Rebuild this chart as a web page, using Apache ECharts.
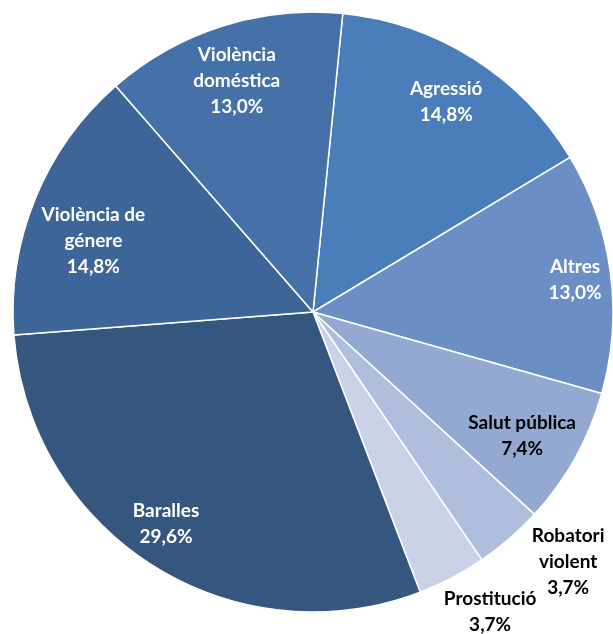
<!DOCTYPE html>
<html>
<head>
<meta charset="utf-8">
<script src="https://cdn.jsdelivr.net/npm/echarts@6/dist/echarts.min.js"></script>
<style>
  html, body { margin: 0; padding: 0; background: #fff; }
  #chart { width: 613px; height: 634px; }
</style>
</head>
<body>
<div id="chart"></div>
<script>
// data, clockwise from the top
const categories = ['Agressió', 'Altres', 'Salut pública', 'Robatori violent', 'Prostitució', 'Baralles', 'Violència de génere', 'Violència doméstica']
const labelNames = ['Agressió', 'Altres', 'Salut pública', 'Robatori\nviolent', 'Prostitució', 'Baralles', 'Violència de\ngénere', 'Violència\ndoméstica']
const percents = [14.8, 13.0, 7.4, 3.7, 3.7, 29.6, 14.8, 13.0]

const colors = ['#4a7dba', '#6b8fc5', '#94a9d1', '#afbedc', '#c9d2e6', '#35567f', '#3d6597', '#4571a8']
const textColors = ['#fff', '#fff', '#000', '#000', '#000', '#fff', '#fff', '#fff']

// label placement: distance from centre (fraction of radius) and small angle tweak (deg)
const labelRadius = [0.83, 0.88, 0.81, 1.19, 1.16, 0.86, 0.77, 0.81]
const labelTurn = [0, 0.6, 1.5, -4.7, -3, 2.4, -4.2, -0.6]

const cx = 313, cy = 312, R = 300
const startOffset = 5.7 // degrees clockwise from 12 o'clock
const total = percents.reduce((a, b) => a + b, 0)

const chart = echarts.init(document.getElementById('chart'))

chart.setOption({
  animation: false,
  series: [
    {
      type: 'pie',
      center: [cx, cy],
      radius: [0, R],
      startAngle: 90 - startOffset,
      clockwise: true,
      avoidLabelOverlap: false,
      itemStyle: { borderColor: '#fff', borderWidth: 1.5 },
      label: {
        show: true,
        position: 'inside',
        fontFamily: 'Lato',
        fontWeight: 'bold',
        fontSize: 19,
        lineHeight: 26,
        align: 'center',
        formatter: (p) => labelNames[p.dataIndex] + '\n' + percents[p.dataIndex].toFixed(1).replace('.', ',') + '%',
      },
      labelLine: { show: false },
      labelLayout: function (p) {
        const i = p.dataIndex
        let before = 0
        for (let k = 0; k < i; k++) before += percents[k]
        const deg = startOffset + ((before + percents[i] / 2) / total) * 360 + labelTurn[i]
        const a = (deg * Math.PI) / 180
        return {
          x: cx + R * labelRadius[i] * Math.sin(a),
          y: cy - R * labelRadius[i] * Math.cos(a),
          align: 'center',
          verticalAlign: 'middle',
        }
      },
      data: categories.map((name, i) => ({
        name: name,
        value: percents[i],
        itemStyle: { color: colors[i] },
        label: { color: textColors[i] },
      })),
    },
  ],
})
</script>
</body>
</html>
